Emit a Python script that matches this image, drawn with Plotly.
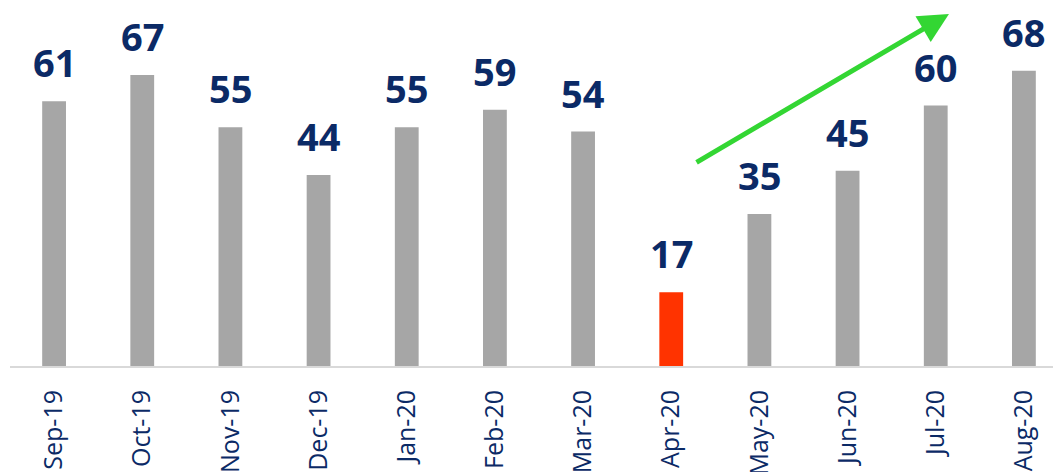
import plotly.graph_objects as go

months = ["Sep-19", "Oct-19", "Nov-19", "Dec-19", "Jan-20", "Feb-20",
          "Mar-20", "Apr-20", "May-20", "Jun-20", "Jul-20", "Aug-20"]
values = [61, 67, 55, 44, 55, 59, 54, 17, 35, 45, 60, 68]
highlight = "Apr-20"

GREY = "#A6A6A6"
RED = "#FF3300"
NAVY = "#0B2A66"
GREEN = "#33D633"

colors = [RED if m == highlight else GREY for m in months]

# trend arrow (data coordinates: category index, value)
arrow_tail = (7.27, 46.7)
arrow_head = (10.15, 81.1)

x_idx = list(range(len(months)))

fig = go.Figure()
fig.add_trace(go.Bar(
    x=x_idx, y=values, marker_color=colors, width=0.27,
    marker_line_width=0, hoverinfo="skip",
))

for i, v in zip(x_idx, values):
    fig.add_annotation(x=i, y=v, text=f"<b>{v}</b>", showarrow=False,
                       yanchor="bottom", yshift=11,
                       font=dict(family="Open Sans", size=38, color=NAVY))

fig.add_annotation(x=arrow_head[0], y=arrow_head[1], ax=arrow_tail[0], ay=arrow_tail[1],
                   xref="x", yref="y", axref="x", ayref="y", text="",
                   showarrow=True, arrowhead=2, arrowsize=1.2, arrowwidth=5,
                   arrowcolor=GREEN)

fig.update_layout(
    width=1053, height=472,
    margin=dict(l=10, r=0, t=0, b=106),
    paper_bgcolor="white", plot_bgcolor="white",
    showlegend=False,
    xaxis=dict(range=[-0.5, 11.33], tickmode="array", tickvals=x_idx, ticktext=months,
               tickangle=-90, showgrid=False, zeroline=False, automargin=False,
               showline=True, linecolor="#D9D9D9", linewidth=2,
               ticks="", ticklabelstandoff=12,
               tickfont=dict(family="Open Sans", size=25, color=NAVY)),
    yaxis=dict(range=[0, 84.3], visible=False, showgrid=False, zeroline=False,
               automargin=False),
)

fig.write_html("out.html", config={"displayModeBar": False},
               post_script="document.body.style.margin='0';document.body.style.overflow='hidden';")
